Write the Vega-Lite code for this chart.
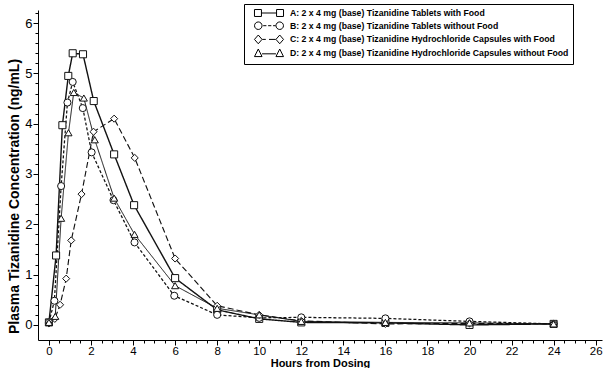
{
  "$schema": "https://vega.github.io/schema/vega-lite/v6.json",
  "width": 564,
  "height": 330,
  "autosize": {"type": "none"},
  "padding": {"left": 38, "top": 10, "right": 5, "bottom": 28},
  "background": "white",
  "config": {"view": {"stroke": null}, "font": "Liberation Sans"},
  "data": {"values": [
    {"series": "A", "hours": 0, "conc": 0.05},
    {"series": "A", "hours": 0.34, "conc": 1.38},
    {"series": "A", "hours": 0.64, "conc": 3.97},
    {"series": "A", "hours": 0.92, "conc": 4.95},
    {"series": "A", "hours": 1.13, "conc": 5.4},
    {"series": "A", "hours": 1.62, "conc": 5.38},
    {"series": "A", "hours": 2.13, "conc": 4.45},
    {"series": "A", "hours": 3.1, "conc": 3.39},
    {"series": "A", "hours": 4.05, "conc": 2.38},
    {"series": "A", "hours": 6, "conc": 0.93},
    {"series": "A", "hours": 8, "conc": 0.3},
    {"series": "A", "hours": 10, "conc": 0.12},
    {"series": "A", "hours": 12, "conc": 0.05},
    {"series": "A", "hours": 16, "conc": 0.04},
    {"series": "A", "hours": 20, "conc": 0.0},
    {"series": "A", "hours": 24, "conc": 0.02},
    {"series": "B", "hours": 0, "conc": 0.05},
    {"series": "B", "hours": 0.26, "conc": 0.48},
    {"series": "B", "hours": 0.58, "conc": 2.76},
    {"series": "B", "hours": 0.88, "conc": 4.42},
    {"series": "B", "hours": 1.13, "conc": 4.83},
    {"series": "B", "hours": 1.61, "conc": 4.31},
    {"series": "B", "hours": 2.03, "conc": 3.43},
    {"series": "B", "hours": 3.07, "conc": 2.48},
    {"series": "B", "hours": 4.07, "conc": 1.64},
    {"series": "B", "hours": 5.96, "conc": 0.58},
    {"series": "B", "hours": 8, "conc": 0.2},
    {"series": "B", "hours": 10, "conc": 0.14},
    {"series": "B", "hours": 12, "conc": 0.15},
    {"series": "B", "hours": 16, "conc": 0.13},
    {"series": "B", "hours": 20, "conc": 0.07},
    {"series": "B", "hours": 24, "conc": 0.02},
    {"series": "C", "hours": 0, "conc": 0.03},
    {"series": "C", "hours": 0.28, "conc": 0.12},
    {"series": "C", "hours": 0.53, "conc": 0.4},
    {"series": "C", "hours": 0.82, "conc": 0.92},
    {"series": "C", "hours": 1.06, "conc": 1.68},
    {"series": "C", "hours": 1.55, "conc": 2.6},
    {"series": "C", "hours": 2.12, "conc": 3.84},
    {"series": "C", "hours": 3.1, "conc": 4.1},
    {"series": "C", "hours": 4.08, "conc": 3.32},
    {"series": "C", "hours": 6, "conc": 1.32},
    {"series": "C", "hours": 8, "conc": 0.38},
    {"series": "C", "hours": 10, "conc": 0.2},
    {"series": "C", "hours": 12, "conc": 0.08},
    {"series": "C", "hours": 16, "conc": 0.02},
    {"series": "C", "hours": 20, "conc": 0.03},
    {"series": "C", "hours": 24, "conc": 0.02},
    {"series": "D", "hours": 0, "conc": 0.05},
    {"series": "D", "hours": 0.3, "conc": 0.17},
    {"series": "D", "hours": 0.58, "conc": 2.12},
    {"series": "D", "hours": 0.93, "conc": 3.82},
    {"series": "D", "hours": 1.18, "conc": 4.62},
    {"series": "D", "hours": 1.66, "conc": 4.51},
    {"series": "D", "hours": 2.18, "conc": 3.68},
    {"series": "D", "hours": 3.1, "conc": 2.52},
    {"series": "D", "hours": 4.07, "conc": 1.8},
    {"series": "D", "hours": 6, "conc": 0.78},
    {"series": "D", "hours": 8, "conc": 0.33},
    {"series": "D", "hours": 10, "conc": 0.2},
    {"series": "D", "hours": 12, "conc": 0.07},
    {"series": "D", "hours": 16, "conc": 0.05},
    {"series": "D", "hours": 20, "conc": 0.04},
    {"series": "D", "hours": 24, "conc": 0.02}
  ]},
  "encoding": {
    "x": {
      "field": "hours", "type": "quantitative",
      "scale": {"domain": [-0.52, 26.3], "nice": false, "zero": false},
      "axis": {
        "title": "Hours from Dosing",
        "values": [0,0.5,1,1.5,2,2.5,3,3.5,4,4.5,5,5.5,6,6.5,7,7.5,8,8.5,9,9.5,10,10.5,11,11.5,12,12.5,13,13.5,14,14.5,15,15.5,16,16.5,17,17.5,18,18.5,19,19.5,20,20.5,21,21.5,22,22.5,23,23.5,24,24.5,25,25.5,26],
        "labelExpr": "datum.value % 2 === 0 ? '' + datum.value : ''",
        "tickSize": {"condition": {"test": "datum.value % 2 === 0", "value": 5}, "value": 3},
        "grid": false,
        "domainColor": "#000", "tickColor": "#000", "labelColor": "#000", "titleColor": "#000",
        "labelFont": "Liberation Sans", "labelFontSize": 11.5, "labelOverlap": false, "labelFlush": false, "labelPadding": 0,
        "titleFont": "Liberation Sans", "titleFontSize": 11, "titleFontWeight": "bold", "titlePadding": 0.5
      }
    },
    "y": {
      "field": "conc", "type": "quantitative",
      "scale": {"domain": [-0.3, 6.26], "nice": false, "zero": false},
      "axis": {
        "title": "Plasma Tizanidine Concentration (ng/mL)",
        "values": [0,0.2,0.4,0.6,0.8,1,1.2,1.4,1.6,1.8,2,2.2,2.4,2.6,2.8,3,3.2,3.4,3.6,3.8,4,4.2,4.4,4.6,4.8,5,5.2,5.4,5.6,5.8,6,6.2],
        "labelExpr": "abs(datum.value - round(datum.value)) < 0.001 ? '' + round(datum.value) : ''",
        "tickSize": {"condition": {"test": "abs(datum.value - round(datum.value)) < 0.001", "value": 5}, "value": 3},
        "grid": false,
        "domainColor": "#000", "tickColor": "#000", "labelColor": "#000", "titleColor": "#000",
        "labelFont": "Liberation Sans", "labelFontSize": 13, "labelOverlap": false, "labelFlush": false, "labelPadding": 1,
        "titleFont": "Liberation Sans", "titleFontSize": 14, "titleFontWeight": "bold", "titlePadding": 3, "titleY": 186
      }
    }
  },
  "layer": [
    {
      "mark": {"type": "line", "color": "#111"},
      "encoding": {
        "detail": {"field": "series"},
        "strokeDash": {"field": "series", "type": "nominal", "scale": {"domain": ["A","B","C","D"], "range": [[1,0],[3,2],[6,3],[1,0]]}, "legend": null},
        "strokeWidth": {"field": "series", "type": "nominal", "scale": {"domain": ["A","B","C","D"], "range": [1.4,1,1,1]}, "legend": null}
      }
    },
    {
      "mark": {"type": "point", "filled": true, "fill": "white", "stroke": "#111", "strokeWidth": 1, "size": 50, "opacity": 1},
      "encoding": {
        "shape": {"field": "series", "type": "nominal", "scale": {"domain": ["A","B","C","D"], "range": ["square","circle","diamond","triangle-up"]}, "legend": null}
      }
    },
    {
      "transform": [{"filter": "false"}],
      "mark": {"type": "point", "color": "#111", "strokeWidth": 1, "opacity": 1},
      "encoding": {
        "shape": {
          "field": "series", "type": "nominal",
          "scale": {"domain": ["A","B","C","D"], "range": [
            "M-3.63,-0.87H-1.89V0.87H-3.63Z M1.89,-0.87H3.63V0.87H1.89Z M-1.89,0H1.89",
            "M-1.74,0A0.94,0.94 0 1,1 -3.62,0A0.94,0.94 0 1,1 -1.74,0Z M3.62,0A0.94,0.94 0 1,1 1.74,0A0.94,0.94 0 1,1 3.62,0Z M-1.45,0H-0.65 M-0.22,0H0.58 M1.02,0H1.67",
            "M-3.63,0L-2.68,-1.09L-1.74,0L-2.68,1.09Z M1.74,0L2.68,-1.09L3.63,0L2.68,1.09Z M-1.67,0H-0.8 M0,0H1.67",
            "M-3.63,0.87L-2.68,-1.02L-1.74,0.87Z M1.74,0.87L2.68,-1.02L3.63,0.87Z M-1.74,0.18H1.74"
          ]},
          "legend": {
            "title": null,
            "orient": "none", "legendX": 206, "legendY": -6,
            "strokeColor": "#000", "fillColor": "white", "padding": 4.5,
            "labelExpr": "{'A': 'A: 2 x 4 mg (base) Tizanidine Tablets with Food', 'B': 'B: 2 x 4 mg (base) Tizanidine Tablets without Food', 'C': 'C: 2 x 4 mg (base) Tizanidine Hydrochloride Capsules with Food', 'D': 'D: 2 x 4 mg (base) Tizanidine Hydrochloride Capsules without Food'}[datum.label]",
            "labelFont": "Liberation Sans", "labelFontWeight": "bold", "labelFontSize": 8.7, "labelColor": "#000", "labelLimit": 0, "labelOffset": 16.5,
            "symbolSize": 64, "symbolOffset": 16, "symbolStrokeColor": "#000", "symbolStrokeWidth": 1, "symbolFillColor": "transparent",
            "rowPadding": 0.7
          }
        }
      }
    }
  ],
  "resolve": {"scale": {"shape": "independent"}}
}
